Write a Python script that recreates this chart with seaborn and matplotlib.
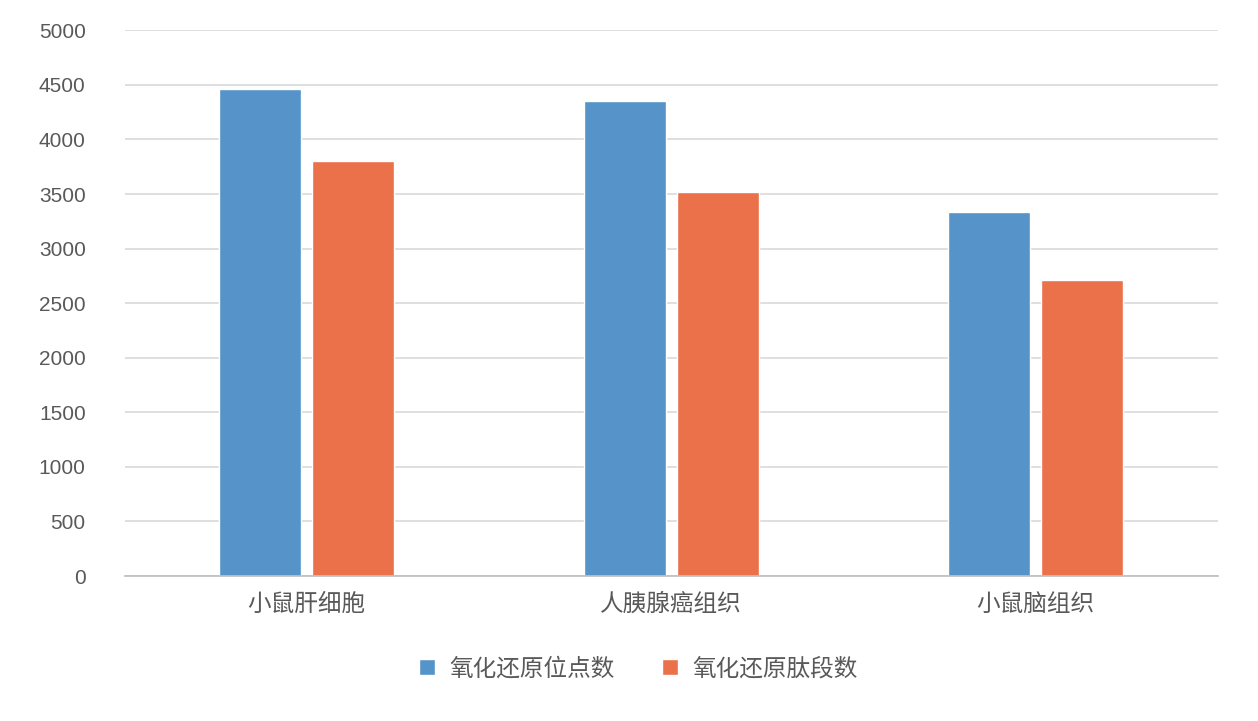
import matplotlib
matplotlib.use("Agg")
import matplotlib.pyplot as plt
import seaborn as sns
import pandas as pd

categories = ["小鼠肝细胞", "人胰腺癌组织", "小鼠脑组织"]
series_names = ["氧化还原位点数", "氧化还原肽段数"]
sites = [4460, 4355, 3335]
peptides = [3805, 3515, 2710]
colors = ["#5593C8", "#EB714B"]

df = pd.DataFrame({
    "cat": categories * 2,
    "series": [series_names[0]] * 3 + [series_names[1]] * 3,
    "value": sites + peptides,
})

sns.set_theme(style="white")
plt.rcParams['font.family'] = ['Noto Sans CJK SC', 'DejaVu Sans']

fig = plt.figure(figsize=(12.58, 7.21), dpi=100)
ax = fig.add_axes([0.099, 0.201, 0.869, 0.757])
sns.barplot(data=df, x="cat", y="value", hue="series", palette=colors,
            width=0.51, ax=ax, saturation=1, legend=True)
for p in ax.patches:
    w = p.get_width()
    if w > 0:
        p.set_x(p.get_x() + 0.015)
        p.set_width(w - 0.03)

ax.set_ylim(0, 5000)
ax.set_yticks(range(0, 5001, 500))
ax.set_xlim(-0.5, 2.5)
ax.yaxis.grid(True, color="#D9D9D9", linewidth=1.2)
ax.set_axisbelow(True)
for s in ["top", "right", "left"]:
    ax.spines[s].set_visible(False)
ax.spines["bottom"].set_color("#BFBFBF")
ax.set_xlabel("")
ax.set_ylabel("")
ax.tick_params(axis="y", labelsize=15, colors="#595959", length=0, pad=28)
ax.tick_params(axis="x", labelsize=17, colors="#595959", length=0, pad=12)
for t in ax.get_yticklabels():
    t.set_fontfamily(["Liberation Sans", "DejaVu Sans"])

leg = ax.legend(loc="upper center", bbox_to_anchor=(0.47, -0.11), ncol=2,
                frameon=False, fontsize=17, handlelength=0.7, handleheight=0.7,
                columnspacing=2.0, handletextpad=0.6)
for t in leg.get_texts():
    t.set_color("#595959")

fig.savefig("out.png", dpi=100, facecolor="white")
